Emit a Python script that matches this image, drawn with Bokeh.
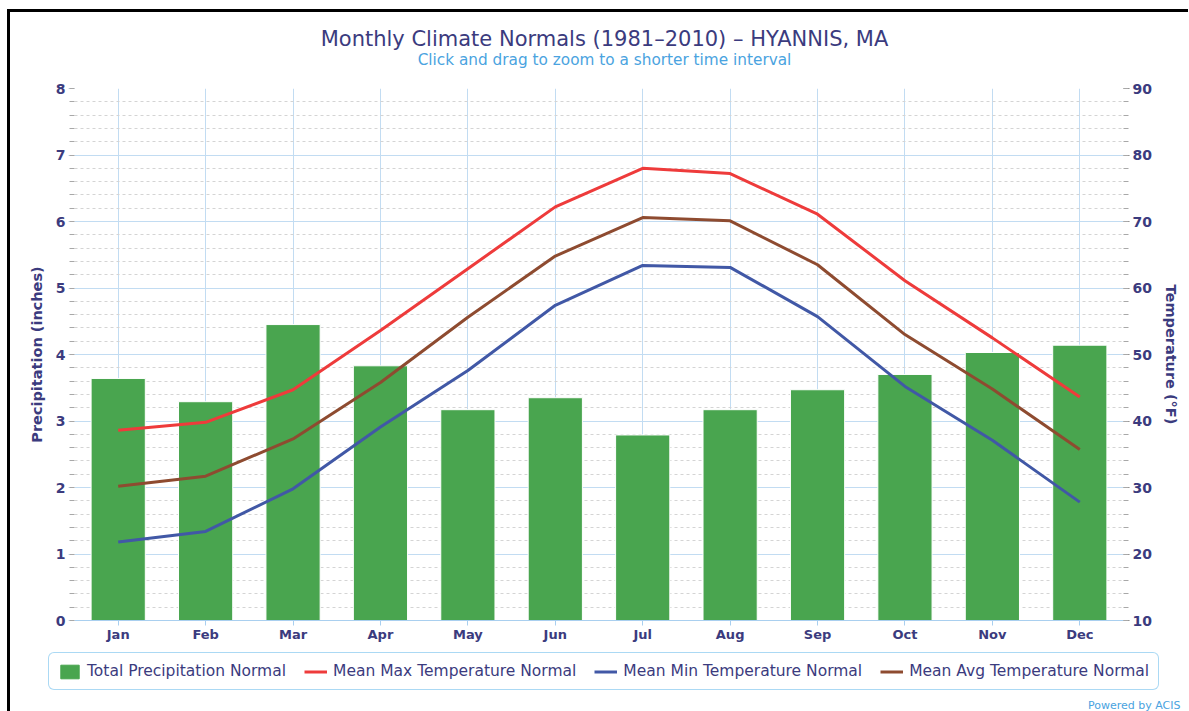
from bokeh.plotting import figure
from bokeh.layouts import column
from bokeh.models import (Range1d, LinearAxis, SingleIntervalTicker, Legend, LegendItem,
                          Label, FactorRange)
from bokeh.embed import file_html
from bokeh.resources import INLINE

months = ["Jan", "Feb", "Mar", "Apr", "May", "Jun", "Jul", "Aug", "Sep", "Oct", "Nov", "Dec"]
precip = [3.64, 3.29, 4.45, 3.83, 3.17, 3.35, 2.79, 3.17, 3.47, 3.70, 4.03, 4.14]
t_max = [38.6, 39.8, 44.7, 53.6, 62.9, 72.2, 78.0, 77.2, 71.1, 61.1, 52.5, 43.6]
t_min = [21.8, 23.4, 29.8, 39.1, 47.6, 57.4, 63.4, 63.1, 55.7, 45.2, 37.1, 27.8]
t_avg = [30.2, 31.7, 37.3, 45.8, 55.6, 64.8, 70.6, 70.1, 63.5, 53.0, 44.8, 35.7]

title_text = "Monthly Climate Normals (1981–2010) – HYANNIS, MA"
subtitle_text = "Click and drag to zoom to a shorter time interval"
series_names = ["Total Precipitation Normal", "Mean Max Temperature Normal",
                "Mean Min Temperature Normal", "Mean Avg Temperature Normal"]

NAVY = "#3B3B7E"
GRID = "#C2DCF2"
LIGHTBLUE = "#4AA3E0"
FONT = "DejaVu Sans"
C_BAR, C_MAX, C_MIN, C_AVG = "#49A54F", "#EE3B3B", "#4158A6", "#8E4B30"
W = 1178

# ---------- title strip ----------
pt = figure(width=W, height=64, x_range=Range1d(0, 1), y_range=Range1d(0, 1),
            x_axis_type=None, y_axis_type=None, output_backend="svg", toolbar_location=None,
            min_border=0, frame_align=False)
pt.outline_line_color = None
pt.grid.visible = False
pt.add_layout(Label(x=594, y=38, x_units="screen", y_units="screen", text=title_text,
                    text_align="center", text_baseline="middle", text_font=FONT,
                    text_font_size="21px", text_color=NAVY))
pt.add_layout(Label(x=594, y=17, x_units="screen", y_units="screen", text=subtitle_text,
                    text_align="center", text_baseline="middle", text_font=FONT,
                    text_font_size="15.3px", text_color=LIGHTBLUE))

# ---------- main chart ----------
p = figure(x_range=FactorRange(factors=months, range_padding=0),
           y_range=Range1d(0, 8), frame_width=1049, frame_height=532,
           output_backend="svg", toolbar_location=None, frame_align=False,
           min_border_left=64, min_border_right=65, min_border_top=12, min_border_bottom=30)
p.outline_line_color = None
p.extra_y_ranges = {"temp": Range1d(10, 90)}

p.xgrid.grid_line_color = GRID
p.ygrid.grid_line_color = GRID
p.ygrid.minor_grid_line_color = "#D4D4D4"
p.ygrid.minor_grid_line_dash = "3 3"

ya = p.yaxis[0]
ya.ticker = SingleIntervalTicker(interval=1, num_minor_ticks=5)
ya.axis_line_color = None
ya.major_tick_line_color = GRID
ya.major_tick_out = 6
ya.major_tick_in = 0
ya.minor_tick_line_color = "#A8A8A8"
ya.minor_tick_out = 5
ya.minor_tick_in = 0
ya.major_label_standoff = 3
ya.major_label_text_font = FONT
ya.major_label_text_font_style = "bold"
ya.major_label_text_font_size = "14px"
ya.major_label_text_color = NAVY
ya.axis_label = "Precipitation (inches)"
ya.axis_label_text_font = FONT
ya.axis_label_text_font_style = "bold"
ya.axis_label_text_font_size = "14.5px"
ya.axis_label_text_color = NAVY
ya.axis_label_standoff = 8

ra = LinearAxis(y_range_name="temp", ticker=SingleIntervalTicker(interval=10, num_minor_ticks=5))
ra.axis_line_color = None
ra.major_tick_line_color = "#888888"
ra.major_tick_out = 6
ra.major_tick_in = 0
ra.minor_tick_line_color = "#A8A8A8"
ra.minor_tick_out = 5
ra.minor_tick_in = 0
ra.major_label_standoff = 3
ra.major_label_text_font = FONT
ra.major_label_text_font_style = "bold"
ra.major_label_text_font_size = "14px"
ra.major_label_text_color = NAVY
ra.axis_label = "Temperature (°F)"
ra.axis_label_text_font = FONT
ra.axis_label_text_font_style = "bold"
ra.axis_label_text_font_size = "14.5px"
ra.axis_label_text_color = NAVY
ra.axis_label_standoff = 8
p.add_layout(ra, "right")

xa = p.xaxis[0]
xa.axis_line_color = "#A9CFEF"
xa.major_tick_line_color = "#A9CFEF"
xa.major_tick_out = 5
xa.major_tick_in = 0
xa.minor_tick_line_color = None
xa.major_label_standoff = 1
xa.major_label_text_font = FONT
xa.major_label_text_font_style = "bold"
xa.major_label_text_font_size = "13px"
xa.major_label_text_color = NAVY

p.vbar(x=months, top=precip, width=0.62, fill_color=C_BAR, line_color="white", line_width=1)
p.line(months, t_max, y_range_name="temp", line_color=C_MAX, line_width=3)
p.line(months, t_min, y_range_name="temp", line_color=C_MIN, line_width=3)
p.line(months, t_avg, y_range_name="temp", line_color=C_AVG, line_width=3)

# ---------- legend strip (proxy renderers lie outside its visible range) ----------
pl = figure(width=W, height=61, x_range=Range1d(0, 1), y_range=Range1d(1000, 1001),
            x_axis_type=None, y_axis_type=None, output_backend="svg", toolbar_location=None,
            min_border=0, frame_align=False)
pl.outline_line_color = None
pl.grid.visible = False
idx = list(range(len(months)))
lb = pl.vbar(x=idx, top=precip, width=0.62, fill_color=C_BAR, line_color=C_BAR)
l1 = pl.line(x=idx, y=t_max, line_color=C_MAX, line_width=3)
l2 = pl.line(x=idx, y=t_min, line_color=C_MIN, line_width=3)
l3 = pl.line(x=idx, y=t_avg, line_color=C_AVG, line_width=3)
legend = Legend(items=[LegendItem(label=n, renderers=[r])
                       for n, r in zip(series_names, [lb, l1, l2, l3])],
                orientation="horizontal", location=(38, 21))
legend.label_text_font = FONT
legend.label_text_font_size = "15.5px"
legend.label_text_color = NAVY
legend.glyph_width = 23
legend.glyph_height = 17
legend.label_standoff = 6
legend.spacing = 18
legend.padding = 9
legend.margin = 0
legend.border_line_color = "#58B4EA"
legend.border_line_width = 1
legend.background_fill_color = "white"
try:
    legend.border_radius = 6
except Exception:
    pass
pl.add_layout(legend, "center")
pl.add_layout(Label(x=1170, y=6, x_units="screen", y_units="screen", text="Powered by ACIS",
                    text_align="right", text_baseline="middle", text_font=FONT,
                    text_font_size="11px", text_color=LIGHTBLUE))

layout = column(pt, p, pl, spacing=0,
                styles={"border-top": "3px solid black", "border-left": "3px solid black",
                        "margin-left": "7px", "margin-top": "9px"})

open("out.html", "w").write(file_html(layout, INLINE))
